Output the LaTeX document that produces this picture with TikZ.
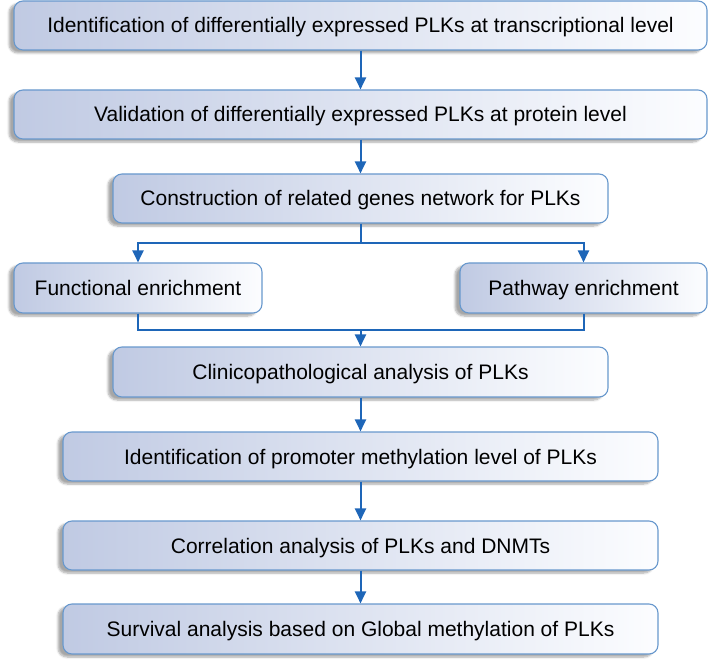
\documentclass[tikz,border=0pt]{standalone}
\usepackage{fontspec}
\setmainfont{Liberation Sans}
\usetikzlibrary{arrows.meta,shadows.blur}
\definecolor{boxborder}{RGB}{104,152,205}
\definecolor{boxleft}{RGB}{192,202,227}
\definecolor{boxright}{RGB}{252,253,255}
\definecolor{arrowblue}{RGB}{30,102,184}
\tikzset{
  stepbox/.style={draw=boxborder, line width=1.1pt, rounded corners=9pt,
    left color=boxleft, right color=boxright, minimum height=49pt,
    inner sep=0pt, text height=15pt, text depth=0pt, font=\fontsize{21}{25}\selectfont,
    blur shadow={shadow xshift=-5pt, shadow yshift=-3pt, shadow opacity=35, shadow blur steps=6}},
  flow/.style={draw=arrowblue, line width=2pt, -{Triangle[width=11pt,length=12pt]}},
  flowline/.style={draw=arrowblue, line width=2pt}
}
\begin{document}
\begin{tikzpicture}[x=1pt,y=-1pt]
\useasboundingbox (0,0) rectangle (709,660);
\node[stepbox, minimum width=693pt] (b1) at (360.5,25.5) {Identification of differentially expressed PLKs at transcriptional level};
\node[stepbox, minimum width=693pt] (b2) at (360.5,114.5) {Validation of differentially expressed PLKs at protein level};
\node[stepbox, minimum width=495pt] (b3) at (360.5,198.5) {Construction of related genes network for PLKs};
\node[stepbox, minimum width=248pt, minimum height=50pt] (fe) at (138,288) {Functional enrichment};
\node[stepbox, minimum width=247pt, minimum height=50pt] (pe) at (583.5,288) {Pathway enrichment};
\node[stepbox, minimum width=495pt, minimum height=50pt] (cl) at (360.5,372) {Clinicopathological analysis of PLKs};
\node[stepbox, minimum width=595pt] (b6) at (360.5,456.5) {Identification of promoter methylation level of PLKs};
\node[stepbox, minimum width=595pt] (b7) at (360.5,545.5) {Correlation analysis of PLKs and DNMTs};
\node[stepbox, minimum width=595pt, minimum height=50pt] (b8) at (360.5,629) {Survival analysis based on Global methylation of PLKs};

\coordinate (split) at (360.5,243);
\coordinate (merge) at (360.5,330);

\draw[flow] (b1.south) -- (b2.north);
\draw[flow] (b2.south) -- (b3.north);
\draw[flowline] (b3.south) -- (split);
\draw[flow] (split) -| (fe.north);
\draw[flow] (split) -| (pe.north);
\draw[flowline] (fe.south) |- (merge);
\draw[flowline] (pe.south) |- (merge);
\draw[flow] (merge) -- (cl.north);
\draw[flow] (cl.south) -- (b6.north);
\draw[flow] (b6.south) -- (b7.north);
\draw[flow] (b7.south) -- (b8.north);
\end{tikzpicture}
\end{document}
